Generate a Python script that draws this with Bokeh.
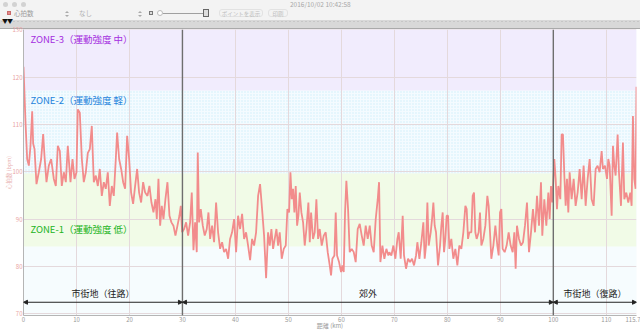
from bokeh.plotting import figure
from bokeh.models import (Range1d, FixedTicker, CustomJSTickFormatter, Span, Arrow,
                          NormalHead, Div)
from bokeh.layouts import column
from bokeh.core.properties import value
from bokeh.embed import file_html
from bokeh.resources import INLINE

# ---------------- data ----------------
dist_a = [0.0, 0.38, 0.69, 1.01, 1.32, 1.64, 1.82, 2.08, 2.45, 2.89, 3.33, 3.71, 3.96, 4.34, 4.78,
          5.22, 5.72, 6.10, 6.48, 6.86, 7.23, 7.61, 7.99, 8.36, 8.87, 9.25, 9.62, 10.0, 10.25, 10.63,
          11.01, 11.38, 11.76, 12.14, 12.52, 12.89, 13.27, 13.65, 14.03, 14.40, 14.78, 15.16, 15.53,
          15.91, 16.29, 16.67, 17.04, 17.42, 17.67, 18.05, 18.43, 18.81, 19.18, 19.56, 19.94, 20.31,
          20.69, 21.07, 21.45, 21.82, 22.20, 22.58, 22.96]
hr_a = [122.2, 110.4, 102.7, 101.3, 105.5, 112.8, 106.0, 104.8, 97.4, 99.9, 102.7, 108.0, 103.4, 97.8,
        101.3, 102.7, 98.5, 97.0, 105.5, 104.4, 97.0, 99.9, 97.8, 105.5, 97.8, 102.7, 98.5, 99.9, 113.2,
        112.5, 102.7, 97.8, 99.9, 104.0, 104.8, 109.7, 97.8, 99.2, 97.0, 100.6, 94.9, 97.8, 96.4, 99.9,
        92.8, 97.0, 94.9, 102.7, 108.3, 102.7, 100.6, 97.8, 96.4, 107.6, 102.7, 95.6, 93.2, 97.0, 100.6,
        95.6, 93.5, 97.8, 95.6]

dist_b = [23.40, 23.77, 24.15, 24.53, 24.91, 25.16, 25.47, 25.79, 26.10, 26.42, 26.79, 27.17, 27.55,
          27.92, 28.30, 28.68, 29.06, 29.43, 29.69, 29.94, 30.31, 30.69, 31.07, 31.45, 31.76, 32.08,
          32.39, 32.70, 32.89, 33.14, 33.46, 33.84, 34.21, 34.59, 34.91, 35.22, 35.60, 35.97, 36.35,
          36.73, 37.11, 37.48, 37.86, 38.24, 38.62, 38.99, 39.37, 39.75, 40.13, 40.50, 40.88, 41.26,
          41.64, 42.01, 42.39, 42.77, 43.14, 43.52, 43.90, 44.28, 44.65, 45.03, 45.41, 45.79, 46.16]
hr_b = [94.9, 97.0, 93.5, 91.4, 94.2, 90.0, 98.5, 88.6, 92.8, 90.0, 94.2, 97.8, 90.7, 89.3, 88.6, 86.5,
        88.6, 90.7, 92.8, 87.2, 87.9, 89.3, 86.5, 89.3, 95.6, 83.4, 89.3, 83.0, 104.1, 89.3, 92.1, 88.6,
        86.5, 87.9, 91.4, 85.8, 88.6, 85.1, 93.5, 87.2, 83.7, 85.1, 83.0, 83.7, 81.6, 85.8, 87.2, 90.0,
        83.0, 90.7, 87.9, 91.1, 85.8, 87.2, 84.4, 81.3, 85.8, 84.4, 87.2, 94.9, 97.4, 92.1, 86.5, 77.5,
        87.2]

dist_c = [46.48, 46.79, 47.11, 47.42, 47.74, 48.05, 48.36, 48.74, 49.12, 49.50, 49.81, 50.13, 50.38,
          50.63, 50.88, 51.13, 51.38, 51.64, 51.89, 52.14, 52.45, 52.77, 53.08, 53.40, 53.77, 54.03,
          54.28, 54.65, 54.97, 55.28, 55.60, 55.91, 56.29, 56.67, 57.04, 57.42, 57.80, 58.05, 58.30,
          58.68, 58.93, 59.18, 59.56, 59.94, 60.19, 60.44, 60.69, 60.94, 61.26, 61.57, 61.95, 62.33,
          62.70, 63.08, 63.46, 63.84, 64.21, 64.59, 64.97, 65.35, 65.72, 66.10, 66.48, 66.86, 67.11,
          67.36, 67.74, 68.11, 68.49, 68.87]
hr_c = [84.4, 87.9, 83.7, 85.8, 87.9, 84.4, 87.2, 81.6, 83.7, 84.4, 92.1, 91.4, 99.9, 94.2, 96.4, 91.4,
        97.0, 88.6, 90.7, 95.6, 91.4, 89.3, 84.4, 87.9, 93.5, 85.1, 91.4, 85.8, 87.2, 94.2, 85.8, 87.9,
        84.4, 86.5, 87.2, 83.0, 80.2, 78.1, 81.6, 82.3, 91.4, 82.3, 80.9, 78.8, 80.2, 78.8, 91.4, 98.1,
        92.1, 83.0, 83.7, 83.0, 80.9, 87.9, 89.0, 86.5, 84.4, 88.6, 85.8, 88.6, 84.4, 83.0, 90.0, 94.2,
        97.8, 80.9, 84.4, 81.6, 83.7, 82.3]

dist_d = [69.06, 69.43, 69.81, 70.19, 70.57, 70.82, 71.19, 71.57, 71.82, 72.20, 72.58, 72.96, 73.33,
          73.71, 74.09, 74.34, 74.72, 75.09, 75.47, 75.72, 75.97, 76.23, 76.48, 76.86, 77.11, 77.36,
          77.61, 77.86, 78.24, 78.62, 78.87, 79.12, 79.37, 79.62, 79.87, 80.13, 80.38, 80.75, 81.13,
          81.51, 81.89, 82.26, 82.64, 83.02, 83.40, 83.65, 83.90, 84.15, 84.53, 84.78, 85.03, 85.28,
          85.53, 85.91, 86.16, 86.42, 86.79, 87.17, 87.55, 87.80, 88.05, 88.30, 88.68, 89.06, 89.43,
          89.69, 89.94, 90.19, 90.44, 90.82, 91.19, 91.57, 91.95, 92.33]
hr_d = [83.0, 82.3, 84.4, 81.6, 85.8, 87.2, 81.6, 90.7, 82.3, 79.5, 81.6, 80.9, 81.6, 80.2, 82.3, 85.1,
        81.6, 85.1, 89.3, 81.6, 84.4, 93.5, 84.4, 87.2, 90.0, 93.5, 88.6, 87.2, 80.2, 84.4, 88.6, 91.4,
        83.0, 85.8, 90.7, 90.7, 83.7, 85.8, 81.6, 83.7, 80.2, 84.4, 83.7, 87.2, 92.8, 92.1, 85.8, 87.2,
        87.2, 94.9, 95.6, 87.2, 85.8, 87.2, 91.4, 84.4, 85.8, 88.6, 94.9, 92.8, 87.2, 81.6, 84.4, 88.6,
        84.4, 82.3, 91.4, 92.1, 83.7, 83.0, 84.4, 87.2, 84.4, 83.0]

dist_e = [92.64, 92.89, 93.14, 93.52, 93.90, 94.28, 94.65, 95.03, 95.41, 95.79, 96.16, 96.54, 96.92,
          97.30, 97.67, 97.92, 98.30, 98.68, 99.06, 99.31, 99.56, 99.81, 100.19, 100.44, 100.69, 100.94,
          101.32, 101.57, 101.82, 102.08, 102.33, 102.58, 102.83, 103.08, 103.46, 103.84, 104.21,
          104.59, 104.97, 105.35, 105.72, 106.10, 106.48, 106.86, 107.23, 107.61, 107.99, 108.36,
          108.74, 109.12, 109.37, 109.75, 110.13, 110.38, 110.63, 111.01, 111.26, 111.51, 111.76,
          112.14, 112.39, 112.77, 113.14, 113.40, 113.77, 114.15, 114.53, 114.78, 115.03, 115.28,
          115.53, 115.70]
hr_e = [87.2, 79.5, 88.6, 85.8, 84.4, 85.1, 88.6, 93.5, 83.0, 87.2, 92.1, 87.2, 94.9, 88.6, 97.8, 86.5,
        94.2, 88.6, 95.6, 90.0, 97.0, 93.5, 102.7, 98.5, 92.1, 97.0, 94.2, 107.9, 107.9, 99.2, 92.8, 98.5,
        91.4, 99.9, 94.2, 98.5, 92.8, 95.6, 100.6, 94.2, 101.3, 92.8, 98.5, 102.7, 94.2, 92.8, 100.6,
        101.3, 99.9, 104.4, 100.6, 101.3, 98.5, 102.7, 101.3, 90.7, 105.5, 101.3, 99.2, 107.9, 99.9,
        92.8, 106.2, 94.2, 95.6, 93.5, 95.6, 92.8, 111.8, 98.5, 96.4, 118.0]

zone_labels = ["ZONE-1（運動強度 低）", "ZONE-2（運動強度 軽）", "ZONE-3（運動強度 中）"]
zone_low = [84.2, 99.7, 117.2]
zone_high = [99.7, 117.2, 130.8]

section_edges = [0.0, 30.0, 100.0, 115.7]
section_labels = ["市街地（往路）", "郊外", "市街地（復路）"]

x_ticks = [0, 10, 20, 30, 40, 50, 60, 70, 80, 90, 100, 110, 115.7]
y_ticks = [70, 80, 90, 100, 110, 120, 130]
x_title = "距離 (km)"
y_title = "心拍数 (bpm)"

x_max = 115.7

# ---------------- build ----------------
dist = []
hr = []
for d, h in ((dist_a, hr_a), (dist_b, hr_b), (dist_c, hr_c), (dist_d, hr_d), (dist_e, hr_e)):
    pairs = list(zip(d, h))
    dist += [q[0] for q in pairs]
    hr += [q[1] for q in pairs]

JP = "Noto Sans CJK JP"
y_lo, y_hi = 69.6, 130.1

p = figure(width=640, height=312, x_range=Range1d(0, x_max), y_range=Range1d(y_lo, y_hi),
           output_backend="svg", toolbar_location=None,
           min_border_left=23, min_border_right=4, min_border_top=5, min_border_bottom=21)
p.background_fill_color = "#f6fcfe"
p.border_fill_color = None
p.outline_line_color = None
# the strip of the app window continues behind the top border of the chart
p.styles = {"background": "linear-gradient(to bottom, #d8d8d8 0px, #d8d8d8 4px, "
                          "#a9a9a9 4px, #a9a9a9 5px, #ffffff 5px, #ffffff 100%)"}

zone_fill = ["#f1fbe7", "#f4fbff", "#f1ecfd"]
zone_text = ["#22b422", "#1f84dc", "#a52ee0"]
for i in range(3):
    kw = {}
    if i == 1:
        kw = dict(hatch_pattern="dot", hatch_color="#d0eef9", hatch_scale=3, hatch_weight=1)
    p.quad(left=[0], right=[x_max], bottom=[zone_low[i]], top=[zone_high[i]],
           fill_color=zone_fill[i], line_color=None, level="image", **kw)

p.xgrid.ticker = FixedTicker(ticks=x_ticks)
p.ygrid.ticker = FixedTicker(ticks=y_ticks)
p.grid.grid_line_color = "#e4d9dc"
p.grid.grid_line_width = 1

p.line(dist, hr, line_color="#f28c8c", line_width=1.8)

for e in section_edges[1:-1]:
    p.add_layout(Span(location=e, dimension="height", line_color="#6e6e6e", line_width=1.4))

arrow_y = 72.4
for a, b in zip(section_edges[:-1], section_edges[1:]):
    p.add_layout(Arrow(x_start=a, x_end=b, y_start=arrow_y, y_end=arrow_y,
                       line_color="#222222", line_width=1,
                       start=NormalHead(size=4, fill_color="#222222", line_color="#222222"),
                       end=NormalHead(size=4, fill_color="#222222", line_color="#222222")))
mids = [(a + b) / 2 for a, b in zip(section_edges[:-1], section_edges[1:])]
p.text(x=mids, y=[arrow_y + 0.45] * 3, text=section_labels, text_align="center",
       text_baseline="bottom", text_font=value(JP), text_font_size="9px", text_color="#222222")

zone_label_y = [zone_low[0] + 3.6, zone_high[1] - 2.0, y_hi - 2.1]
p.text(x=[1.3] * 3, y=zone_label_y, text=zone_labels, text_align="left", text_baseline="middle",
       text_font=value(JP), text_font_size="9.5px", text_color=zone_text)

# axes
p.xaxis.ticker = FixedTicker(ticks=x_ticks)
p.xaxis.formatter = CustomJSTickFormatter(
    code="return Number.isInteger(tick) ? tick.toFixed(0) : tick.toFixed(1)")
p.yaxis.ticker = FixedTicker(ticks=y_ticks)
for ax in (p.xaxis[0], p.yaxis[0]):
    ax.axis_line_color = "#b5b5b5"
    ax.major_tick_line_color = None
    ax.minor_tick_line_color = None
    ax.major_tick_out = 0
    ax.major_tick_in = 0
    ax.major_label_text_font = JP
    ax.major_label_text_font_size = "6px"
    ax.axis_label_text_font = JP
    ax.axis_label_text_font_style = "normal"
    ax.major_label_standoff = 1
p.xaxis.major_label_text_color = "#999999"
p.xaxis.axis_label = x_title
p.xaxis.axis_label_text_font_size = "6px"
p.xaxis.axis_label_text_color = "#999999"
p.xaxis.axis_label_standoff = -4
p.yaxis.major_label_text_color = "#e9a3a3"
p.yaxis.axis_label = y_title
p.yaxis.axis_label_text_font_size = "5.5px"
p.yaxis.axis_label_text_color = "#e9b3b3"
p.yaxis.axis_label_standoff = -3

# ---------------- app toolbar ----------------
def chevrons(left):
    return (f'<span style="position:absolute;left:{left}px;top:11px;width:0;height:0;'
            'border-left:2px solid transparent;border-right:2px solid transparent;'
            'border-bottom:2px solid #aaa;"></span>'
            f'<span style="position:absolute;left:{left}px;top:15px;width:0;height:0;'
            'border-left:2px solid transparent;border-right:2px solid transparent;'
            'border-top:2px solid #aaa;"></span>')

html = """
<div style="position:relative;width:640px;height:24px;background:#f3f3f3;overflow:hidden;
            font-family:'Noto Sans CJK JP',sans-serif;color:#a8a8a8;">
  <span style="position:absolute;left:3px;top:2px;width:5px;height:5px;border-radius:50%;background:#d2d2d2;"></span>
  <span style="position:absolute;left:12px;top:2px;width:5px;height:5px;border-radius:50%;background:#d2d2d2;"></span>
  <span style="position:absolute;left:21px;top:2px;width:5px;height:5px;border-radius:50%;background:#d2d2d2;"></span>
  <span style="position:absolute;left:290px;top:0px;font-size:6.5px;line-height:8px;">2016/10/02 10:42:58</span>
  <span style="position:absolute;left:7px;top:11px;width:4px;height:4px;background:#e58a8a;border:1px solid #c96b6b;"></span>
  <span style="position:absolute;left:14px;top:9px;font-size:6.5px;line-height:9px;color:#9a9a9a;">心拍数</span>
  CHEV1
  <span style="position:absolute;left:79px;top:9px;font-size:6.5px;line-height:9px;color:#b0b0b0;">なし</span>
  CHEV2
  <span style="position:absolute;left:149px;top:11px;width:4px;height:4px;border:1px solid #777;background:#ddd;"></span>
  <span style="position:absolute;left:163px;top:13px;width:40px;height:1px;background:#a0a0a0;"></span>
  <span style="position:absolute;left:157px;top:10px;width:6px;height:6px;border-radius:50%;background:#fff;border:1px solid #bbb;"></span>
  <span style="position:absolute;left:203px;top:9px;width:6px;height:8px;border:1px solid #666;background:#ddd;"></span>
  <span style="position:absolute;left:219px;top:9px;width:44px;height:8px;border:1px solid #e2e2e2;border-radius:3px;
               font-size:5.5px;line-height:8px;text-align:center;color:#bdbdbd;">ポイントを表示</span>
  <span style="position:absolute;left:268px;top:9px;width:20px;height:8px;border:1px solid #e2e2e2;border-radius:3px;
               font-size:5.5px;line-height:8px;text-align:center;color:#bdbdbd;">印刷</span>
  <div style="position:absolute;left:0px;top:20px;width:640px;height:4px;background-color:#d8d8d8;
              background-image:radial-gradient(#c6c6c6 0.6px, transparent 0.8px);background-size:4px 3px;"></div>
  <span style="position:absolute;left:2px;top:17px;font-size:6px;line-height:7px;color:#111;letter-spacing:-1px;">▼▼</span>
</div>
""".replace("CHEV1", chevrons(65)).replace("CHEV2", chevrons(138))
bar = Div(text=html, width=640, height=24, margin=(0, 0, 0, 0))

layout = column(bar, p, spacing=0)
open("out.html", "w").write(file_html(layout, INLINE))
